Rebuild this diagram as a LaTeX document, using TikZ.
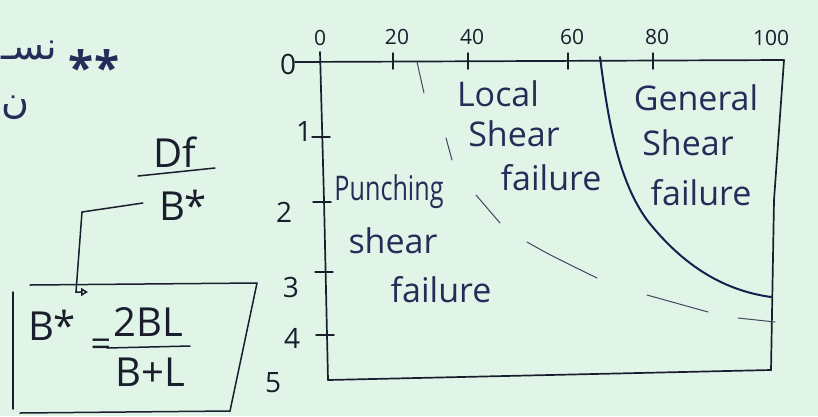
\documentclass[tikz,border=0pt]{standalone}
\usepackage{graphicx}
\usepackage{fontspec}
\setmainfont{Open Sans}
\newfontfamily\arabicfont[Script=Arabic]{DejaVu Sans}
\TeXXeTstate=1
\usetikzlibrary{arrows.meta}
\definecolor{paper}{RGB}{224,245,231}
\definecolor{ink}{RGB}{26,30,44}
\definecolor{blueink}{RGB}{36,44,88}
\definecolor{curveink}{RGB}{22,32,78}
\definecolor{faintink}{RGB}{64,72,96}

\begin{document}
\begin{tikzpicture}[x=1pt,y=-1pt,
  axisline/.style={ink, line width=1.7pt, line cap=round, line join=round},
  tickmark/.style={ink, line width=1.5pt, line cap=round},
  boundary/.style={curveink, line width=2pt, line cap=round},
  faintline/.style={faintink, line width=1pt, line cap=round},
  zonetext/.style={blueink, inner sep=0pt, font=\fontsize{34}{36}\selectfont},
  toplabel/.style={ink, inner sep=0pt, font=\fontsize{21}{22}\selectfont},
  sidelabel/.style={ink, inner sep=0pt, font=\fontsize{28}{30}\selectfont},
  mathtext/.style={ink, inner sep=0pt, font=\fontsize{40}{42}\selectfont},
  arabictext/.style={blueink, inner sep=0pt, anchor=west, font=\arabicfont\fontsize{38}{40}\selectfont},
  boxline/.style={ink, line width=1.5pt, line cap=round},
]
% paper
\fill[paper] (0,0) rectangle (818,416);
\useasboundingbox (0,0) rectangle (818,416);

% ---- chart frame -------------------------------------------------
\coordinate (tl) at (321,60);
\coordinate (tr) at (784,60);
\coordinate (br) at (771,370);
\coordinate (bl) at (328,380);
\draw[axisline] (295,62) -- (tr) -- (774,200) -- (br);
\draw[axisline] (320,52) -- (324,200) -- (bl);
\draw[axisline] (bl) -- (br);

% top ticks and labels
\foreach \x/\t in {393/20,468/40,568/60,653/80}{
  \draw[tickmark] (\x,53) -- (\x,69);
  \node[toplabel] at (\x+4,37) {\t};
}
\node[toplabel] at (320,38) {0};
\node[toplabel] at (771,38) {100};

% side ticks and labels
\foreach \y/\xx in {137/322,202/323,272/325,335/326}{
  \draw[tickmark] (\xx-10,\y) -- (\xx+8,\y);
}
\node[sidelabel] at (288,64) {0};
\node[sidelabel] at (304,131) {1};
\node[sidelabel] at (284,212) {2};
\node[sidelabel] at (291,287) {3};
\node[sidelabel] at (292,338) {4};
\node[sidelabel] at (273,383) {5};

% ---- zone boundaries ---------------------------------------------
% general / local shear boundary
\draw[boundary] (600,57) .. controls (608,120) and (618,180) .. (647,220)
  .. controls (680,262) and (720,290) .. (771,297);
% punching / local shear boundary (broken stroke)
\draw[faintline] (417,62) -- (424,93);
\draw[faintline] (446,138) -- (452,160);
\draw[faintline] (476,195) -- (500,223);
\draw[faintline] (527,242) .. controls (550,255) .. (597,278);
\draw[faintline] (647,295) -- (708,312);
\draw[faintline] (738,318) -- (775,322);

% ---- zone labels ------------------------------------------------
\node[zonetext] (loc1) at (498,94) {Local};
\node[zonetext] (loc2) at (514,134) {Shear};
\node[zonetext] (loc3) at (551,178) {failure};
\node[zonetext] (gen1) at (696,98) {General};
\node[zonetext] (gen2) at (688,143) {Shear};
\node[zonetext] (gen3) at (701,193) {failure};
\node[zonetext] (pun1) at (389,192) {\scalebox{0.74}[1]{Punching}};
\node[zonetext] (pun2) at (393,241) {shear};
\node[zonetext] (pun3) at (441,290) {failure};

% ---- notes on the left ------------------------------------------
\node[arabictext] (ar1) at (1,50) {\beginR نسـ\endR};
\node[arabictext] (ar2) at (1,108) {\beginR ن\endR};
\node[blueink, inner sep=0pt, font=\fontsize{46}{46}\selectfont\bfseries] (stars) at (94,67) {**};

% Df / B*
\node[mathtext] (df) at (175,152) {Df};
\draw[boxline] (138,176) -- (215,168);
\node[mathtext] (bs) at (183,205) {B*};

% B* definition box
\node[mathtext] (bsym) at (52,325) {B*};
\node[ink, inner sep=0pt, font=\fontsize{36}{36}\selectfont] (eq) at (101,348) {=};
\node[mathtext] (num) at (148,322) {2BL};
\draw[boxline] (107,348) -- (190,346);
\node[mathtext] (den) at (150,372) {B+L};
\draw[boxline] (30,285) -- (257,283) -- (230,411);
\draw[boxline] (20,413) -- (230,411);
\draw[boxline] (13,292) -- (13,409);

% bracket from the ratio down to the box
\coordinate (brk) at ([xshift=-16pt,yshift=2pt]bs.west);
\coordinate (elbow) at (82,212);
\coordinate (bend) at (76,292);
\coordinate (hook) at (88,292);
\draw[boxline, -{Triangle[open, length=7pt, width=8pt]}] (brk) -- (elbow) -- (bend) -- (hook);
\end{tikzpicture}
\end{document}
